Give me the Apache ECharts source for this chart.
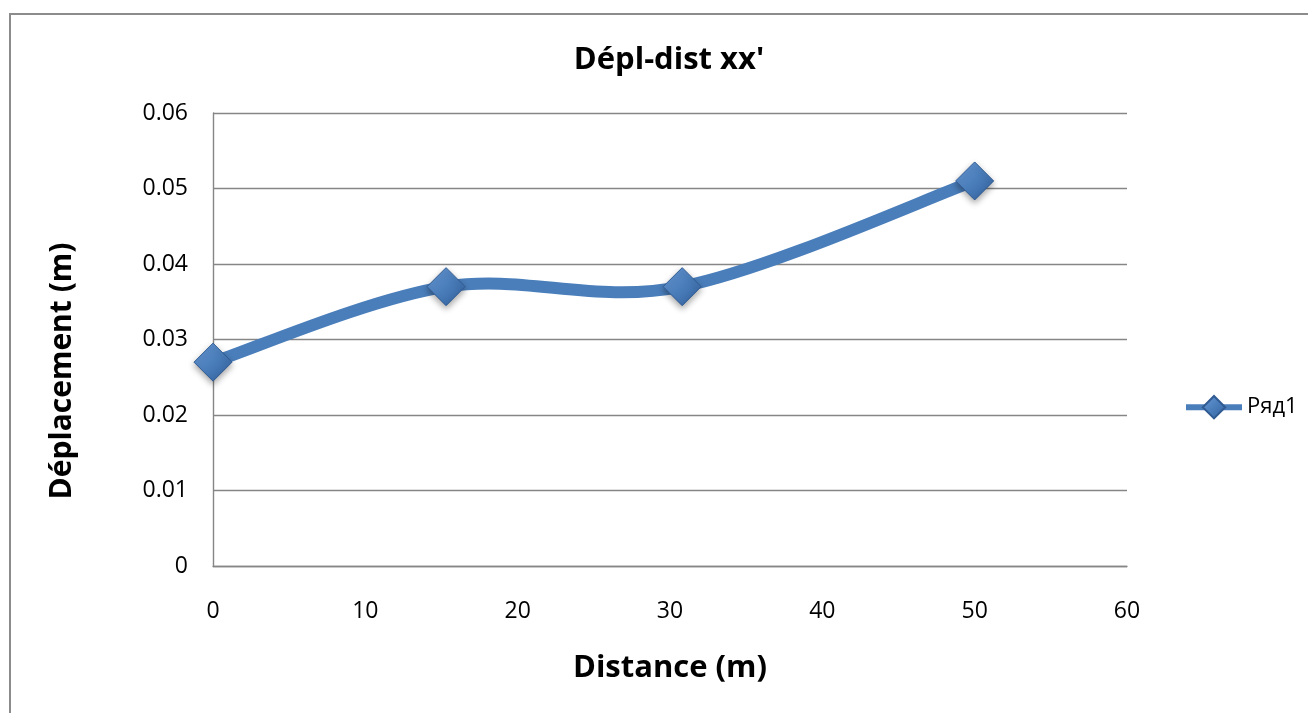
<!DOCTYPE html>
<html>
<head>
<meta charset="utf-8">
<title>Dépl-dist xx'</title>
<script src="https://cdn.jsdelivr.net/npm/echarts@6/dist/echarts.min.js"></script>
<style>
  html, body { margin: 0; padding: 0; background: #fff; }
  #chart { width: 1308px; height: 713px; }
</style>
</head>
<body>
<div id="chart"></div>
<script>
// Measured displacement along the distance
const distances = [0, 15.3, 30.8, 50];
const displacements = [0.027, 0.037, 0.037, 0.051];
const seriesName = 'Ряд1';
const chartTitle = "Dépl-dist xx'";
const xTitle = 'Distance (m)';
const yTitle = 'Déplacement (m)';

const FONT = '"Open Sans", "DejaVu Sans", sans-serif';
const LINE_COLOR = '#4A7EBB';
const points = distances.map((d, i) => [d, displacements[i]]);

// Smoothed path through the data points (Catmull-Rom style Bezier segments),
// positioned with the chart's own coordinate system.
function smoothPath(api) {
  const c = points.map(p => api.coord(p));
  const n = c.length;
  let d = 'M' + c[0][0] + ' ' + c[0][1];
  for (let i = 0; i < n - 1; i++) {
    const p0 = c[Math.max(i - 1, 0)];
    const p1 = c[i];
    const p2 = c[i + 1];
    const p3 = c[Math.min(i + 2, n - 1)];
    const c1x = p1[0] + (p2[0] - p0[0]) / 6;
    const c1y = p1[1] + (p2[1] - p0[1]) / 6;
    const c2x = p2[0] - (p3[0] - p1[0]) / 6;
    const c2y = p2[1] - (p3[1] - p1[1]) / 6;
    d += ' C' + c1x + ' ' + c1y + ' ' + c2x + ' ' + c2y + ' ' + p2[0] + ' ' + p2[1];
  }
  return d;
}

const chart = echarts.init(document.getElementById('chart'), null, { renderer: 'canvas' });

chart.setOption({
  backgroundColor: '#ffffff',
  animation: false,
  title: {
    text: chartTitle,
    left: 664, top: 40, textAlign: 'center',
    textStyle: { fontFamily: FONT, fontWeight: 'bold', fontSize: 31, color: '#000' }
  },
  graphic: [{
    type: 'rect',
    shape: { x: 10, y: 14, width: 1400, height: 800 },
    style: { fill: 'none', stroke: '#8c8c8c', lineWidth: 2 },
    silent: true
  }, {
    type: 'text',
    x: 62, y: 371,
    rotation: Math.PI / 2,
    style: {
      text: yTitle,
      fontFamily: FONT, fontWeight: 'bold', fontSize: 30, fill: '#000',
      textAlign: 'center', textVerticalAlign: 'middle'
    },
    silent: true
  }],
  legend: {
    left: 1178, top: 390,
    itemWidth: 56, itemHeight: 28, itemGap: 4,
    textStyle: { fontFamily: FONT, fontSize: 22, color: '#000' },
    lineStyle: { color: LINE_COLOR, width: 6, opacity: 1 },
    data: [seriesName]
  },
  grid: { left: 213, right: 181, top: 113, bottom: 147, containLabel: false },
  xAxis: {
    type: 'value', min: 0, max: 60, interval: 10,
    name: xTitle, nameLocation: 'middle', nameGap: 87,
    nameTextStyle: { fontFamily: FONT, fontWeight: 'bold', fontSize: 31, color: '#000' },
    axisLine: { show: true, lineStyle: { color: '#868686', width: 1.4 } },
    axisTick: { show: false },
    splitLine: { show: false },
    axisLabel: { margin: 34, fontFamily: FONT, fontSize: 23, color: '#000' }
  },
  yAxis: {
    type: 'value', min: 0, max: 0.06, interval: 0.01,
    axisLine: { show: true, lineStyle: { color: '#868686', width: 1.4 } },
    axisTick: { show: false },
    splitLine: { show: true, lineStyle: { color: '#868686', width: 1.4 } },
    axisLabel: { margin: 25, fontFamily: FONT, fontSize: 23, color: '#000' }
  },
  series: [{
    // the smoothed curve
    type: 'custom',
    data: points,
    silent: true,
    z: 2,
    renderItem: function (params, api) {
      if (params.dataIndex !== 0) return null;
      return {
        type: 'path',
        shape: { pathData: smoothPath(api) },
        style: { fill: 'none', stroke: LINE_COLOR, lineWidth: 12, lineCap: 'round', lineJoin: 'round' }
      };
    }
  }, {
    // the markers
    name: seriesName,
    type: 'line',
    data: points,
    symbol: 'diamond',
    symbolSize: 38,
    lineStyle: { color: LINE_COLOR, width: 12, opacity: 0 },
    itemStyle: {
      color: new echarts.graphic.LinearGradient(0, 0, 1, 1, [
        { offset: 0, color: '#6a9ad8' },
        { offset: 0.5, color: '#4A7EBB' },
        { offset: 1, color: '#325f9c' }
      ]),
      borderColor: '#2f5a92',
      borderWidth: 1,
      shadowBlur: 6,
      shadowColor: 'rgba(0,0,0,0.35)',
      shadowOffsetY: 3
    },
    z: 3
  }]
});
</script>
</body>
</html>
